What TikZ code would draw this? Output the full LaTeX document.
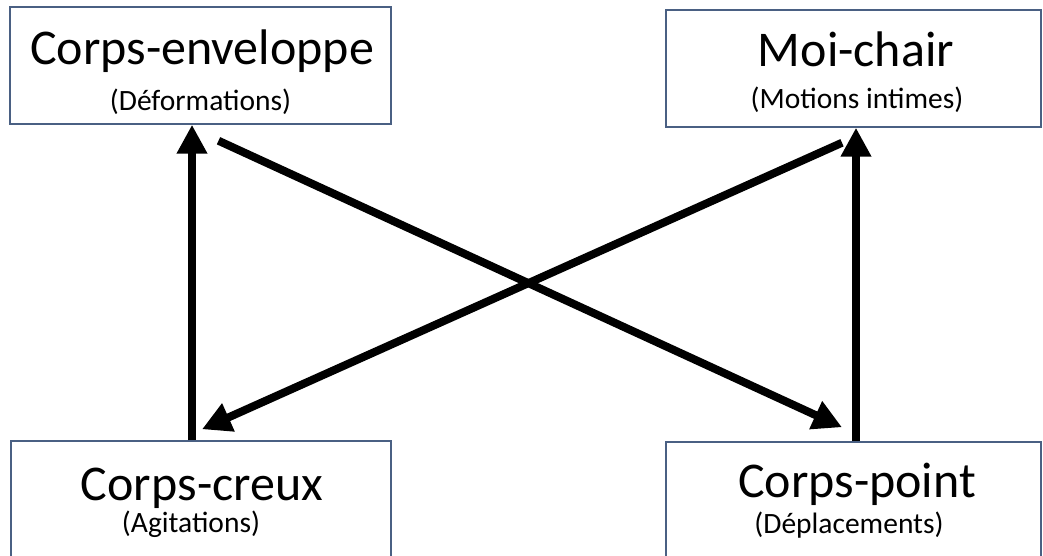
\documentclass[tikz,border=0pt]{standalone}
\usepackage{fontspec}
\setmainfont{Carlito}
\usetikzlibrary{arrows.meta}
\definecolor{boxline}{HTML}{4A6083}
\tikzset{
  card/.style={draw=boxline, line width=1.5pt, fill=white, rectangle, inner sep=0pt},
  title/.style={anchor=base, inner sep=0pt, font=\fontsize{50}{60}\selectfont},
  subtitle/.style={anchor=base, inner sep=0pt, font=\fontsize{29.5}{35}\selectfont},
  flow/.style={line width=8pt, -{Triangle[length=29pt, width=29pt]}}
}
\begin{document}
\begin{tikzpicture}[x=1pt, y=-1pt]
\useasboundingbox (0,0) rectangle (1043,556);
\clip (0,0) rectangle (1043,556);
\fill[white] (0,0) rectangle (1043,556);
% boxes
\node[card, minimum width=381pt, minimum height=117pt] (TL) at (200.5,65.5) {};
\node[card, minimum width=375pt, minimum height=117pt] (TR) at (853.5,68.5) {};
\node[card, minimum width=380pt, minimum height=117pt] (BL) at (201,499.5) {};
\node[card, minimum width=375pt, minimum height=117pt] (BR) at (853.5,500.5) {};
% texts
\node[title] (TLt) at (202,65) {Corps-enveloppe};
\node[subtitle] (TLs) at (200.5,111) {(Déformations)};
\node[title] (TRt) at (856,67) {Moi-chair};
\node[subtitle] (TRs) at (857,109) {(Motions intimes)};
\node[title] (BLt) at (202,500) {Corps-creux};
\node[subtitle] (BLs) at (191,532) {(Agitations)};
\node[title] (BRt) at (857,497) {Corps-point};
\node[subtitle] (BRs) at (849,533) {(Déplacements)};
% arrows
\draw[flow] ([shift={(-9,0)}]BL.north) -- ([shift={(-8.5,0)}]TL.south);
\draw[flow] ([shift={(2.5,0)}]BR.north) -- ([shift={(2.5,0)}]TR.south);
\draw[flow] ([shift={(18,16)}]TL.south) -- ([shift={(-11.5,-14)}]BR.north);
\draw[flow] ([shift={(-11.5,15)}]TR.south) -- ([shift={(1,-11)}]BL.north);
\end{tikzpicture}
\end{document}
